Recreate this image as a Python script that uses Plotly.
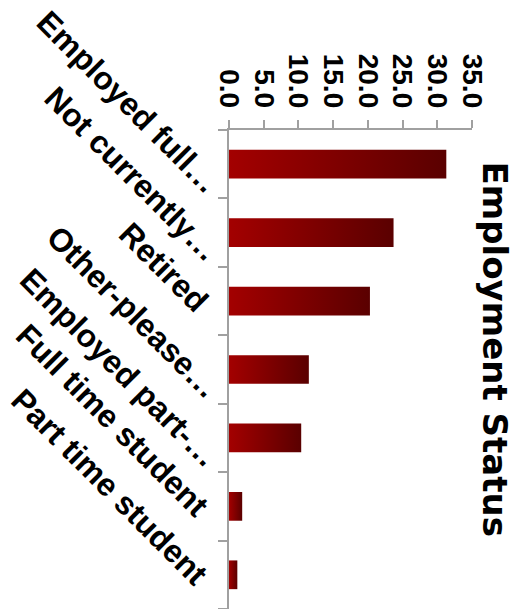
import plotly.graph_objects as go

# Employment status survey results (percent of respondents)
categories = [
    "Employed full…",
    "Not currently…",
    "Retired",
    "Other-please…",
    "Employed part-…",
    "Full time student",
    "Part time student",
]
percent = [31.3, 23.7, 20.3, 11.5, 10.4, 1.9, 1.2]
value_ticks = [0, 5, 10, 15, 20, 25, 30, 35]
value_labels = ["0.0", "5.0", "10.0", "15.0", "20.0", "25.0", "30.0", "35.0"]

BAR_WIDTH = 0.42
AXIS_GREY = "#a0a0a0"
GRADIENT = [[0.0, "#a30000"], [1.0, "#5a0000"]]

fig = go.Figure()

# Each bar is a filled rectangle in data space so it can carry a left-to-right gradient
for i, (name, v) in enumerate(zip(categories, percent)):
    y0, y1 = i - BAR_WIDTH / 2, i + BAR_WIDTH / 2
    fig.add_trace(go.Scatter(
        x=[0, v, v, 0, 0],
        y=[y0, y0, y1, y1, y0],
        mode="lines",
        line=dict(width=0, color="#5a0000"),
        fill="toself",
        fillgradient=dict(type="horizontal", colorscale=GRADIENT),
        name=name,
        hovertemplate=f"{name}: {v:.1f}<extra></extra>",
        showlegend=False,
    ))

n = len(categories)
bold = dict(family="Liberation Sans, Arial, sans-serif", color="black", weight="bold")

# Slanted category labels; shortened (…) labels sit a little lower and further right
annotations = []
for i, label in enumerate(categories):
    shortened = label.endswith("…")
    annotations.append(dict(
        text=label,
        textangle=45,
        xref="paper", yref="y",
        x=0, y=i,
        xanchor="right", yanchor="bottom",
        xshift=0 if shortened else -11,
        yshift=-39 if shortened else -20,
        showarrow=False,
        font=dict(size=32, **bold),
    ))

annotations.append(dict(
    text="Employment Status",
    textangle=90,
    xref="paper",
    yref="paper",
    x=(496 - 228.5) / 244,
    y=(609 - 349) / 479,
    xanchor="center",
    yanchor="middle",
    showarrow=False,
    font=dict(size=34, family="DejaVu Sans, sans-serif", color="black", weight="bold"),
))

fig.update_layout(
    template="none",
    width=527,
    height=609,
    margin=dict(l=228.5, r=54.5, t=130, b=0, pad=0),
    paper_bgcolor="white",
    plot_bgcolor="white",
    xaxis=dict(
        side="top",
        range=[0, 35],
        tickvals=value_ticks,
        ticktext=value_labels,
        tickangle=90,
        tickfont=dict(size=28, **bold),
        ticks="outside",
        ticklen=8,
        tickwidth=2,
        tickcolor=AXIS_GREY,
        ticklabelstandoff=2,
        ticklabeloverflow="allow",
        showline=True,
        linecolor=AXIS_GREY,
        linewidth=2,
        showgrid=False,
        zeroline=False,
        automargin=False,
        fixedrange=True,
    ),
    yaxis=dict(
        range=[n - 0.5, -0.5],
        tickvals=[k - 0.5 for k in range(n + 1)],
        showticklabels=False,
        ticks="outside",
        ticklen=9,
        tickwidth=2,
        tickcolor=AXIS_GREY,
        showline=True,
        linecolor=AXIS_GREY,
        linewidth=2,
        showgrid=False,
        zeroline=False,
        automargin=False,
        fixedrange=True,
    ),
    annotations=annotations,
)

fig.write_html("out.html")
